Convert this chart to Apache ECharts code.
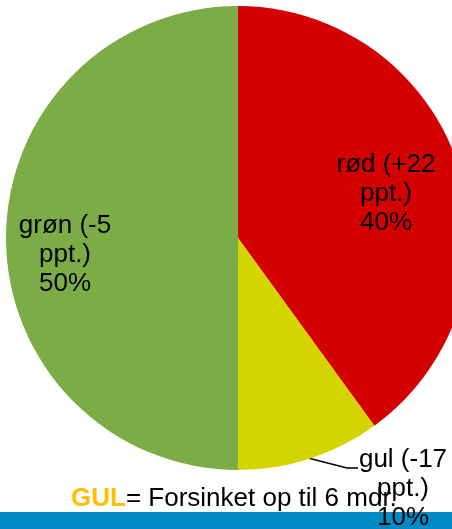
<!DOCTYPE html>
<html>
<head>
<meta charset="utf-8">
<script src="https://cdn.jsdelivr.net/npm/echarts@6/dist/echarts.min.js"></script>
<style>html,body{margin:0;padding:0;background:#fff}#c{width:452px;height:529px}</style>
</head>
<body>
<div id="c"></div>
<script>
const categories = ['rød', 'gul', 'grøn'];
const changes = ['+22', '-17', '-5'];
const values = [40, 10, 50];
const colors = ['#D40000', '#D4D400', '#7CAC45'];
const caption = ['GUL', '= Forsinket op til 6 mdr.'];

const labelPos = [
  { x: 386, y: 194 },
  { x: 403, y: 489, labelLinePoints: [[308, 458], [347, 468], [358, 468]] },
  { x: 65, y: 255 }
];

const chart = echarts.init(document.getElementById('c'));
chart.setOption({
  animation: false,
  title: {
    text: '{a|' + caption[0] + '}{b|' + caption[1] + '}',
    left: 66, top: 481,
    textStyle: {
      fontWeight: 'normal',
      rich: {
        a: { fontFamily: 'Liberation Sans', fontSize: 26, fontWeight: 'bold', color: '#FFC000' },
        b: { fontFamily: 'Liberation Sans', fontSize: 26, fontWeight: 'normal', color: '#000' }
      }
    }
  },
  graphic: [{
    type: 'rect', shape: { x: 0, y: 512, width: 452, height: 17 },
    style: { fill: '#008BC4' }, z: 0
  }],
  series: [{
    type: 'pie',
    center: [238, 238],
    radius: 232,
    startAngle: 90,
    clockwise: true,
    avoidLabelOverlap: false,
    z: 5,
    data: categories.map((n, i) => ({
      name: n, value: values[i],
      itemStyle: { color: colors[i] },
      label: { position: i === 1 ? 'outside' : 'inside' },
      labelLine: { show: i === 1, lineStyle: { color: '#000', width: 1.5 } }
    })),
    label: {
      show: true,
      formatter: p => p.name + ' (' + changes[p.dataIndex] + '\nppt.)\n' + p.value + '%',
      fontFamily: 'Liberation Sans',
      fontSize: 26,
      lineHeight: 29,
      color: '#000',
      align: 'center'
    },
    labelLayout: p => Object.assign({ align: 'center', verticalAlign: 'middle' }, labelPos[p.dataIndex])
  }]
});
</script>
</body>
</html>
